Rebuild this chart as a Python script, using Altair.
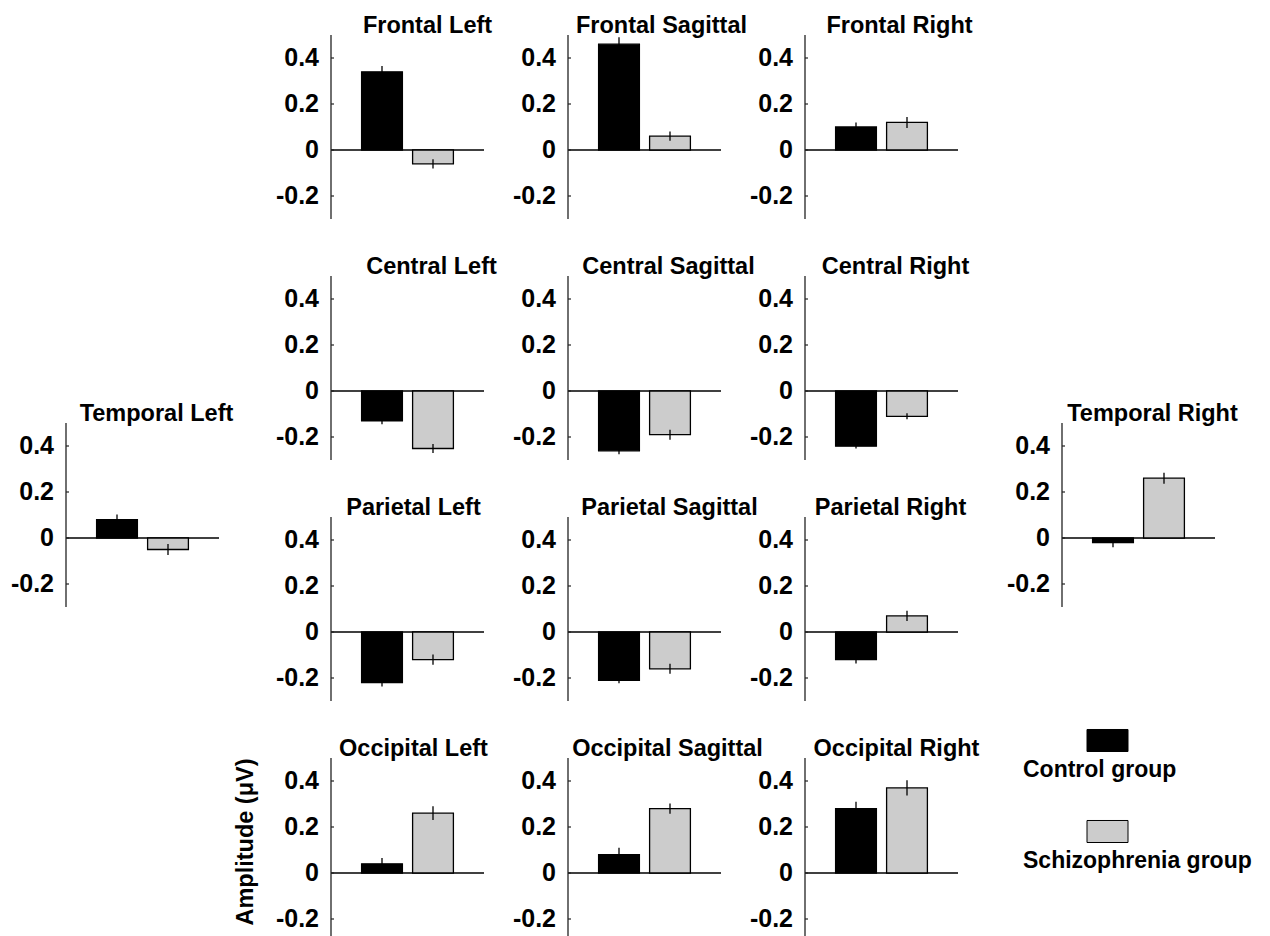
import altair as alt
import pandas as pd

# Mean amplitude (µV) and its standard error per electrode region and group
REGIONS = [
    "Frontal Left", "Frontal Sagittal", "Frontal Right",
    "Central Left", "Central Sagittal", "Central Right",
    "Parietal Left", "Parietal Sagittal", "Parietal Right",
    "Occipital Left", "Occipital Sagittal", "Occipital Right",
    "Temporal Left", "Temporal Right",
]
GROUPS = ["Control group", "Schizophrenia group"]
CONTROL_MEAN = [0.34, 0.46, 0.10, -0.13, -0.26, -0.24, -0.22, -0.21, -0.12, 0.04, 0.08, 0.28, 0.08, -0.02]
CONTROL_SEM = [0.025, 0.03, 0.02, 0.015, 0.015, 0.01, 0.017, 0.013, 0.017, 0.025, 0.03, 0.03, 0.022, 0.02]
SCHIZO_MEAN = [-0.06, 0.06, 0.12, -0.25, -0.19, -0.11, -0.12, -0.16, 0.07, 0.26, 0.28, 0.37, -0.05, 0.26]
SCHIZO_SEM = [0.02, 0.02, 0.024, 0.02, 0.022, 0.013, 0.022, 0.022, 0.022, 0.03, 0.022, 0.033, 0.024, 0.024]
Y_TICKS = [-0.2, 0, 0.2, 0.4]
Y_LABELS = ["-0.2", "0", "0.2", "0.4"]
Y_DOMAIN = [-0.3, 0.5]
Y_TITLE = "Amplitude (μV)"

# Styling and layout
BAR_COLORS = ["black", "#cccccc"]
AXIS_COLOR = "#222222"
FONT = "Liberation Sans"
PW, PH = 153, 184
COL_GAP, ROW_GAP = 84, 57
GRID = [
    [None, "Frontal Left", "Frontal Sagittal", "Frontal Right", None],
    [None, "Central Left", "Central Sagittal", "Central Right", None],
    ["Temporal Left", "Parietal Left", "Parietal Sagittal", "Parietal Right", "Temporal Right"],
    [None, "Occipital Left", "Occipital Sagittal", "Occipital Right", "legend"],
]
# temporal panels sit between the central and parietal rows
SHIFT = {"Temporal Left": (-28, -94), "Temporal Right": (20, -94)}
TITLE_DX = {
    "Frontal Left": 20, "Frontal Sagittal": 17, "Frontal Right": 18,
    "Central Left": 24, "Central Sagittal": 24, "Central Right": 14,
    "Parietal Left": 6, "Parietal Sagittal": 25, "Parietal Right": 9,
    "Occipital Left": 6, "Occipital Sagittal": 23, "Occipital Right": 15,
    "Temporal Left": 14, "Temporal Right": 14,
}
SWATCH = "M-1,-0.537H1V0.537H-1Z"


def panel(name):
    i = REGIONS.index(name)
    df = pd.DataFrame({
        "group": GROUPS,
        "value": [CONTROL_MEAN[i], SCHIZO_MEAN[i]],
        "sem": [CONTROL_SEM[i], SCHIZO_SEM[i]],
    })
    tick_df = pd.DataFrame({"tick": Y_TICKS, "label": Y_LABELS})
    span_df = pd.DataFrame({"y0": [Y_DOMAIN[0]], "y1": [Y_DOMAIN[1]], "base": [0.0]})
    dx, dy = SHIFT.get(name, (0, 0))
    xs = alt.Scale(domain=GROUPS, range=[dx, dx + PW], paddingInner=0.2, paddingOuter=0.6)
    ys = alt.Scale(domain=Y_DOMAIN, range=[dy + PH, dy], nice=False)

    base = alt.Chart(df).transform_calculate(
        lo="datum.value - datum.sem", hi="datum.value + datum.sem"
    )
    bars = base.mark_bar(stroke="black", strokeWidth=1.3).encode(
        x=alt.X("group:N", scale=xs, axis=None),
        y=alt.Y("value:Q", scale=ys, axis=None),
        color=alt.Color("group:N", scale=alt.Scale(domain=GROUPS, range=BAR_COLORS), legend=None),
    )
    zero = alt.Chart(span_df).mark_rule(color="black", strokeWidth=1.3).encode(
        y=alt.Y("base:Q", axis=None), x=alt.value(dx), x2=alt.value(dx + PW)
    )
    errs = base.mark_rule(color="black", strokeWidth=1.3).encode(
        x=alt.X("group:N", axis=None), y=alt.Y("lo:Q", axis=None), y2="hi:Q"
    )
    # vertical axis: spine, inward ticks and labels
    spine = alt.Chart(span_df).mark_rule(color=AXIS_COLOR, strokeWidth=1.3).encode(
        y=alt.Y("y0:Q", axis=None), y2="y1:Q", x=alt.value(dx)
    )
    ticks = alt.Chart(tick_df).mark_rule(color=AXIS_COLOR, strokeWidth=1.2).encode(
        y=alt.Y("tick:Q", axis=None), x=alt.value(dx), x2=alt.value(dx + 3)
    )
    labels = alt.Chart(tick_df).mark_text(
        align="right", baseline="middle", dx=-12, font=FONT, fontSize=25,
        fontWeight="bold", color="black",
    ).encode(y=alt.Y("tick:Q", axis=None), x=alt.value(dx), text="label:N")
    layers = [zero, bars, errs, spine, ticks, labels]

    if name == "Occipital Left":
        layers.append(
            alt.Chart(span_df).transform_calculate(
                mid="(datum.y0 + datum.y1) / 2"
            ).mark_text(
                angle=270, align="center", baseline="middle", dx=8, font=FONT,
                fontSize=23.5, fontWeight="bold", color="black",
            ).encode(
                y=alt.Y("mid:Q", axis=None), x=alt.value(dx - 85), text=alt.value(Y_TITLE)
            )
        )

    return alt.layer(*layers).properties(
        width=PW, height=PH,
        title=alt.TitleParams(
            text=name, anchor="middle", frame="group", dx=dx + TITLE_DX[name], dy=22,
            offset=0, baseline="alphabetic", font=FONT, fontSize=23.5, fontWeight="bold",
            color="black",
        ),
    )


def blank():
    return alt.Chart(pd.DataFrame({"e": [0]})).mark_point(opacity=0).encode(
        x=alt.X("e:Q", axis=None), y=alt.Y("e:Q", axis=None)
    ).properties(width=PW, height=PH)


def legend_cell():
    leg = pd.DataFrame({"group": GROUPS})
    ys = alt.Scale(domain=GROUPS, range=[-17.5, 73.5], padding=0)
    swatch = alt.Chart(leg).mark_point(
        shape=SWATCH, size=41 * 41, filled=True, opacity=1, stroke="black", strokeWidth=1
    ).encode(
        y=alt.Y("group:N", scale=ys, axis=None),
        x=alt.value(65.5),
        fill=alt.Fill("group:N", scale=alt.Scale(domain=GROUPS, range=BAR_COLORS), legend=None),
    )
    label = alt.Chart(leg).mark_text(
        align="left", baseline="middle", dy=29, font=FONT, fontSize=23,
        fontWeight="bold", color="black",
    ).encode(y=alt.Y("group:N", scale=ys, axis=None), x=alt.value(-19), text="group:N")
    return alt.layer(swatch, label).properties(width=PW, height=PH)


cells = []
for row in GRID:
    for name in row:
        if name is None:
            cells.append(blank())
        elif name == "legend":
            cells.append(legend_cell())
        else:
            cells.append(panel(name))

chart = alt.concat(
    *cells, columns=5, spacing={"row": ROW_GAP, "column": COL_GAP}, bounds="flush"
).properties(
    padding={"left": 10, "top": 13, "right": 5, "bottom": 5}, background="white"
).configure_view(stroke="transparent")

chart.save("out.html", embed_options={"renderer": "svg", "actions": False})
